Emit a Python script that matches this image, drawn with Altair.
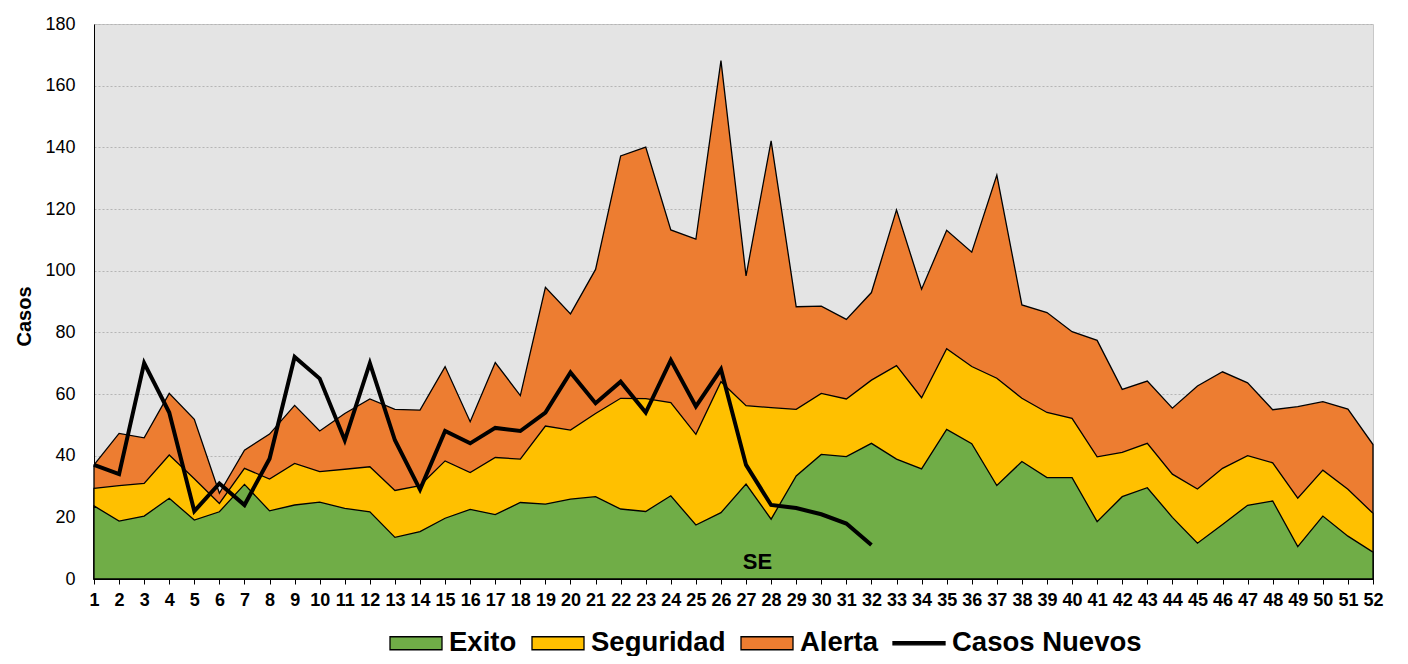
import altair as alt
import pandas as pd

# ---------------- data ----------------
weeks = list(range(1, 53))

exito = [23.7, 18.8, 20.4, 26.2, 19.1, 21.8, 30.7, 22.1, 24.0, 24.9,
         22.9, 21.8, 13.5, 15.4, 19.7, 22.6, 20.9, 24.8, 24.3, 25.9,
         26.7, 22.7, 21.9, 27.0, 17.5, 21.5, 30.8, 19.4, 33.4, 40.4,
         39.7, 44.0, 38.9, 35.7, 48.5, 43.9, 30.3, 38.1, 32.9, 32.9,
         18.6, 26.7, 29.6, 20.0, 11.6, 17.7, 23.9, 25.3, 10.5, 20.4,
         13.9, 8.7]

seguridad = [29.4, 30.3, 31.0, 40.2, 32.5, 24.5, 35.9, 32.4, 37.5, 34.8,
             35.6, 36.4, 28.7, 30.3, 38.3, 34.5, 39.4, 38.9, 49.6, 48.3,
             53.7, 58.6, 58.5, 57.2, 46.9, 64.0, 56.2, 55.6, 55.0, 60.2,
             58.4, 64.5, 69.2, 58.8, 74.7, 68.9, 65.1, 58.6, 54.0, 52.1,
             39.6, 41.1, 44.0, 34.0, 29.2, 35.9, 40.0, 37.7, 26.2, 35.3,
             29.1, 21.3]

alerta = [37.0, 47.2, 45.8, 60.2, 51.8, 27.8, 41.8, 47.0, 56.3, 48.0,
          53.7, 58.4, 55.0, 54.8, 68.9, 51.0, 70.2, 59.5, 94.6, 86.0,
          100.4, 137.2, 140.1, 113.2, 110.2, 168.1, 98.3, 142.1, 88.3, 88.5,
          84.2, 92.9, 119.7, 94.0, 113.1, 106.0, 131.0, 88.9, 86.4, 80.2,
          77.4, 61.5, 64.2, 55.4, 62.6, 67.2, 63.6, 54.9, 55.9, 57.5,
          55.1, 43.6]

casos_nuevos = [37, 34, 70, 54, 22, 31, 24, 39, 72, 65,
                45, 70, 45, 29, 48, 44, 49, 48, 54, 67,
                57, 64, 54, 71, 56, 68, 37, 24, 23, 21,
                18, 11]

series_names = ["Exito", "Seguridad", "Alerta", "Casos Nuevos"]
series_colors = ["#70ad47", "#ffc000", "#ed7d31", "#000000"]
y_ticks = list(range(0, 181, 20))

# ---------------- tables ----------------
wide = pd.DataFrame({"SE": weeks, "Exito": exito,
                     "Seguridad": seguridad, "Alerta": alerta})
casos = pd.DataFrame({"SE": weeks[:len(casos_nuevos)], "Casos": casos_nuevos})
long = pd.concat([
    wide.melt(id_vars="SE", var_name="serie", value_name="valor"),
    casos.rename(columns={"Casos": "valor"}).assign(serie="Casos Nuevos"),
], ignore_index=True)

FONT = "Liberation Sans"
W, H = 1279, 555

x_scale = alt.Scale(domain=[1, 52], nice=False, zero=False)
y_scale = alt.Scale(domain=[0, 180], nice=False)

x_axis = alt.Axis(values=weeks, format="d", title="SE",
                  titleFont=FONT, titleFontSize=22, titleFontWeight="bold",
                  titleColor="black", titleX=663, titleY=-18,
                  titleAlign="center", titleBaseline="middle",
                  labelFont=FONT, labelFontSize=18, labelFontWeight="bold",
                  labelColor="black", labelPadding=7, labelFlush=False,
                  labelOverlap=False, labelBound=False,
                  tickSize=5, tickColor="black", tickWidth=1,
                  domainColor="black", domainWidth=1, grid=False, zindex=1)

y_axis = alt.Axis(values=y_ticks, title="Casos",
                  titleFont=FONT, titleFontSize=20, titleFontWeight="bold",
                  titleColor="black", titleAngle=270, titleX=-70, titleY=292,
                  titleAlign="center", titleBaseline="middle",
                  labelFont=FONT, labelFontSize=18, labelColor="black",
                  labelPadding=19, tickSize=0,
                  domainColor="black", domainWidth=1,
                  grid=True, gridColor="#b5b5b5", gridDash=[2, 2], gridWidth=1,
                  zindex=0)

X = alt.X("SE:Q", scale=x_scale, axis=x_axis, title="SE")


def Y(col):
    return alt.Y(f"{col}:Q", scale=y_scale, axis=y_axis, title="Casos")


base = alt.Chart(wide)


def area_layer(col, color):
    return base.mark_area(fill=color, stroke="black", strokeWidth=1.3,
                          strokeJoin="miter").encode(x=X, y=Y(col))


a_alerta = area_layer("Alerta", series_colors[2])
a_seg = area_layer("Seguridad", series_colors[1])
a_exito = area_layer("Exito", series_colors[0])

line = alt.Chart(casos).mark_line(color="black", strokeWidth=4).encode(
    x=X, y=Y("Casos"))

rect_path = "M-1,-0.25H1V0.25H-1Z"
line_path = "M-1,-0.06H1V0.06H-1Z"

leg = alt.Legend(title=None, orient="none", legendX=295, legendY=592,
                 direction="horizontal", columns=4, padding=0,
                 labelFont=FONT, labelFontSize=27.5, labelFontWeight="bold",
                 labelColor="black", labelLimit=400, labelOffset=6,
                 columnPadding=12, symbolSize=2704,
                 symbolStrokeWidth=1.3, symbolOpacity=1)

# legend-only layer: its rows are filtered out, the legend comes from the
# explicit scale domains
legend_layer = alt.Chart(long).transform_filter(
    "datum.valor < 0"
).mark_point(filled=True, strokeWidth=1.3).encode(
    x=X, y=Y("valor"),
    fill=alt.Fill("serie:N", scale=alt.Scale(domain=series_names,
                                             range=series_colors), legend=leg),
    stroke=alt.Stroke("serie:N", scale=alt.Scale(domain=series_names,
                                                 range=["#000000"] * 4),
                      legend=leg),
    shape=alt.Shape("serie:N", scale=alt.Scale(domain=series_names,
                                               range=[rect_path, rect_path,
                                                      rect_path, line_path]),
                    legend=leg),
)

chart = alt.layer(a_alerta, a_seg, a_exito, line, legend_layer).properties(
    width=W, height=H,
    autosize=alt.AutoSizeParams(type="none"),
    padding={"left": 86, "top": 16, "right": 20, "bottom": 77},
    background="white",
).configure_view(
    fill="#e4e4e4", stroke="#c8c8c8", strokeWidth=1
)

chart.save("out.html", embed_options={"renderer": "svg", "actions": False})
